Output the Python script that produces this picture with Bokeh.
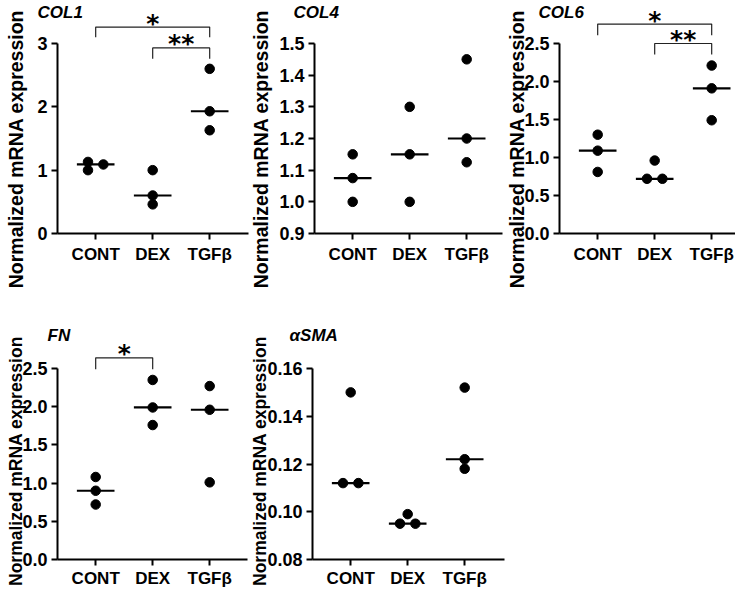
import numpy as np
from bokeh.plotting import figure
from bokeh.models import Range1d, FixedTicker, Label, NumeralTickFormatter
from bokeh.layouts import column, row
from bokeh.core.properties import value
from bokeh.embed import file_html
from bokeh.resources import INLINE

# ---------------- data ----------------
groups = ["CONT", "DEX", "TGFβ"]
y_label = "Normalized mRNA expression"

col1_cont = [1.13, 1.00, 1.09]
col1_dex = [1.00, 0.60, 0.46]
col1_tgfb = [2.60, 1.93, 1.63]
col1_dodge = [[-1, -1, 1], [0, 0, 0], [0, 0, 0]]
col1_ticks = [0, 1, 2, 3]
col1_fmt = "0"
col1_sig = [(0, 2, "*", 3.26, 3.10), (1, 2, "**", 2.93, 2.76)]

col4_cont = [1.15, 1.075, 1.00]
col4_dex = [1.30, 1.15, 1.00]
col4_tgfb = [1.45, 1.20, 1.125]
col4_dodge = [[0, 0, 0], [0, 0, 0], [0, 0, 0]]
col4_ticks = [0.9, 1.0, 1.1, 1.2, 1.3, 1.4, 1.5]
col4_fmt = "0.0"
col4_sig = []

col6_cont = [1.30, 1.09, 0.81]
col6_dex = [0.96, 0.72, 0.72]
col6_tgfb = [2.21, 1.91, 1.49]
col6_dodge = [[0, 0, 0], [0, -1, 1], [0, 0, 0]]
col6_ticks = [0.0, 0.5, 1.0, 1.5, 2.0, 2.5]
col6_fmt = "0.0"
col6_sig = [(0, 2, "*", 2.755, 2.61), (1, 2, "**", 2.50, 2.355)]

fn_cont = [1.08, 0.90, 0.72]
fn_dex = [2.35, 1.99, 1.76]
fn_tgfb = [2.27, 1.96, 1.01]
fn_dodge = [[0, 0, 0], [0, 0, 0], [0, 0, 0]]
fn_ticks = [0.0, 0.5, 1.0, 1.5, 2.0, 2.5]
fn_fmt = "0.0"
fn_sig = [(0, 1, "*", 2.64, 2.49)]

asma_cont = [0.150, 0.112, 0.112]
asma_dex = [0.099, 0.095, 0.095]
asma_tgfb = [0.152, 0.122, 0.118]
asma_dodge = [[0, -1, 1], [0, -1, 1], [0, 0, 0]]
asma_ticks = [0.08, 0.10, 0.12, 0.14, 0.16]
asma_fmt = "0.00"
asma_sig = []

# ---------------- layout / style ----------------
FONT = "Liberation Sans"
X0 = -0.67          # data x where the y axis sits
PX_PER_CAT = 57.0
DODGE = 0.135
MED_HALF = 0.33


def make_panel(title, values, dodge, ticks, fmt, sig, width, height,
               ax_left, ax_len, ax_top, ax_bottom, ylab_dx, title_dx, title_dy,
               ylab_dy, ylab_size, x_standoff):
    """ax_left: px from canvas left to y axis; ax_len: px length of x axis;
    ax_top/ax_bottom: px from canvas top to top / bottom of y axis."""
    ymin, ymax = ticks[0], ticks[-1]
    ppu = (ax_bottom - ax_top) / (ymax - ymin)
    y_start = ymin - (height - ax_bottom) / ppu
    y_end = ymax + ax_top / ppu
    x_start = X0 - ax_left / PX_PER_CAT
    x_end = X0 + (width - ax_left) / PX_PER_CAT
    x_axis_end = X0 + ax_len / PX_PER_CAT
    p = figure(width=width, height=height, x_range=Range1d(x_start, x_end),
               y_range=Range1d(y_start, y_end), output_backend="svg",
               toolbar_location=None, min_border=0)
    p.xgrid.visible = False
    p.ygrid.visible = False
    p.outline_line_color = None
    p.background_fill_color = "white"
    p.border_fill_color = "white"

    xs, ys = [], []
    for gi, (vals, dd) in enumerate(zip(values, dodge)):
        for v, d in zip(vals, dd):
            xs.append(gi + d * DODGE)
            ys.append(v)
    p.scatter(xs, ys, size=9.5, fill_color="black", line_color="black")

    meds = [float(np.median(v)) for v in values]
    idx = np.arange(len(values))
    p.segment(x0=idx - MED_HALF, x1=idx + MED_HALF, y0=meds, y1=meds,
              line_width=2.2, line_color="black")

    for (i, j, txt, bar, leg) in sig:
        p.line([i, i, j, j], [leg, bar, bar, leg], line_width=1.2, line_color="#222222")
        p.text(x=[(i + j) / 2], y=[bar], text=[txt], text_font=value("DejaVu Sans"),
               text_font_style="bold", text_font_size="25px", text_align="center",
               text_baseline="middle", y_offset=-4, text_color="black")

    xa = p.xaxis[0]
    ya = p.yaxis[0]
    xa.ticker = FixedTicker(ticks=list(range(len(groups))))
    xa.major_label_overrides = {i: g for i, g in enumerate(groups)}
    xa.major_label_standoff = x_standoff
    xa.bounds = (X0, x_axis_end)
    xa.fixed_location = ymin
    xa.major_label_text_font_size = "17px"
    ya.ticker = FixedTicker(ticks=ticks)
    ya.formatter = NumeralTickFormatter(format=fmt)
    ya.bounds = (ymin, ymax)
    ya.fixed_location = X0
    ya.major_label_standoff = 4
    ya.major_label_text_font_size = "18px"
    for ax in (xa, ya):
        ax.axis_line_width = 2
        ax.axis_line_color = "black"
        ax.major_tick_line_width = 2
        ax.major_tick_line_color = "black"
        ax.major_tick_out = 6
        ax.major_tick_in = 0
        ax.minor_tick_line_color = None
        ax.major_label_text_font = FONT
        ax.major_label_text_font_style = "bold"
        ax.major_label_text_color = "black"

    p.add_layout(Label(x=X0, y=(ymin + ymax) / 2, x_offset=ylab_dx, y_offset=ylab_dy,
                       text=y_label, angle=np.pi / 2, text_align="center",
                       text_baseline="middle", text_font=FONT, text_font_style="bold",
                       text_font_size=ylab_size, text_color="black"))
    p.add_layout(Label(x=X0, y=ymax, x_offset=title_dx, y_offset=title_dy,
                       text=title, text_align="left", text_baseline="middle",
                       text_font=FONT, text_font_style="bold italic",
                       text_font_size="17px", text_color="black"))
    return p


TOP_H = 318          # top row: y axis from 43 to 233 px
BOT_H = 270          # bottom row: y axis from 50 to 241 px (page 368..559)
TOP = dict(height=TOP_H, ax_top=43, ax_bottom=233, title_dy=31,
           ylab_dy=-10.5, ylab_size="19.5px", x_standoff=5)
BOT = dict(height=BOT_H, ax_top=50, ax_bottom=241, title_dy=33,
           ylab_dy=3, ylab_size="17.5px", x_standoff=3)

p1 = make_panel("COL1", [col1_cont, col1_dex, col1_tgfb], col1_dodge, col1_ticks, col1_fmt,
                col1_sig, 249, ax_left=57, ax_len=191, ylab_dx=-42, title_dx=-20, **TOP)
p2 = make_panel("COL4", [col4_cont, col4_dex, col4_tgfb], col4_dodge, col4_ticks, col4_fmt,
                col4_sig, 256, ax_left=65, ax_len=188, ylab_dx=-54, title_dx=-21, **TOP)
p3 = make_panel("COL6", [col6_cont, col6_dex, col6_tgfb], col6_dodge, col6_ticks, col6_fmt,
                col6_sig, 230, ax_left=54, ax_len=176, ylab_dx=-43, title_dx=-21, **TOP)
p4 = make_panel("FN", [fn_cont, fn_dex, fn_tgfb], fn_dodge, fn_ticks, fn_fmt,
                fn_sig, 249, ax_left=57, ax_len=190, ylab_dx=-42, title_dx=-10, **BOT)
p5 = make_panel("αSMA", [asma_cont, asma_dex, asma_tgfb], asma_dodge, asma_ticks, asma_fmt,
                asma_sig, 256, ax_left=63, ax_len=192, ylab_dx=-53, title_dx=-23, **BOT)

layout = column(row(p1, p2, p3), row(p4, p5))
open("out.html", "w").write(file_html(layout, INLINE))
